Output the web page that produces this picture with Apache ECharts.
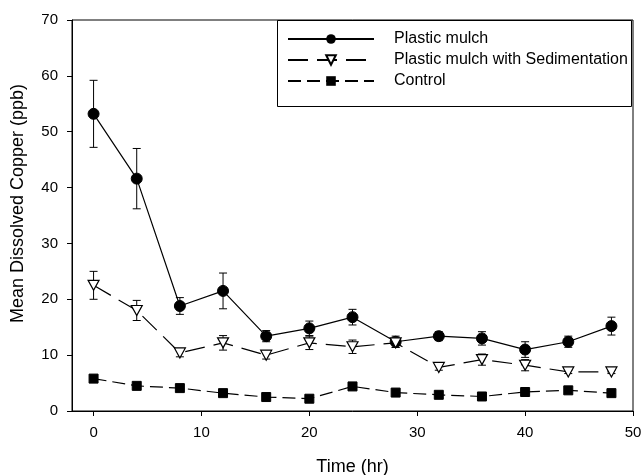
<!DOCTYPE html>
<html>
<head>
<meta charset="utf-8">
<script src="https://cdn.jsdelivr.net/npm/echarts@6/dist/echarts.min.js"></script>
<style>
    html, body { margin: 0; padding: 0; background: #fff; }
    #chart { width: 642px; height: 475px; }
</style>
</head>
<body>
<div id="chart"></div>
<script>
// time points (hr)
const hours = [0, 4, 8, 12, 16, 20, 24, 28, 32, 36, 40, 44, 48];

// mean dissolved copper (ppb) and error bar half-widths
const mulch = [53.2, 41.6, 18.8, 21.5, 13.4, 14.8, 16.8, 12.4, 13.4, 13.0, 11.0, 12.4, 15.2];
const mulchErr = [6.0, 5.4, 1.5, 3.2, 1.0, 1.3, 1.4, 1.0, 0.8, 1.2, 1.4, 1.0, 1.6];
const sediment = [22.5, 18.0, 10.4, 12.2, 10.0, 12.2, 11.5, 12.2, 7.8, 9.2, 8.2, 7.0, 7.0];
const sedimentErr = [2.5, 1.8, 0.7, 1.3, 0.7, 1.2, 1.2, 0.8, 0.5, 1.0, 1.0, 0.3, 0.3];
const control = [5.8, 4.5, 4.1, 3.2, 2.5, 2.2, 4.4, 3.3, 2.9, 2.6, 3.4, 3.7, 3.2];

const xTicks = [0, 10, 20, 30, 40, 50];
const names = ["Plastic mulch", "Plastic mulch with Sedimentation", "Control"];

const font = "'Liberation Sans', Arial, sans-serif";

function pairs(ys) {
    return hours.map((h, i) => [h, ys[i]]);
}

function errData(ys, es) {
    return hours.map((h, i) => [h, ys[i] - es[i], ys[i] + es[i]]);
}

// vertical error bar with caps
function renderErr(params, api) {
    const lo = api.coord([api.value(0), api.value(1)]);
    const hi = api.coord([api.value(0), api.value(2)]);
    const w = 4;
    const style = { stroke: "#000", lineWidth: 1 };
    return {
        type: "group",
        children: [
            { type: "line", shape: { x1: lo[0], y1: lo[1], x2: hi[0], y2: hi[1] }, style: style },
            { type: "line", shape: { x1: lo[0] - w, y1: lo[1], x2: lo[0] + w, y2: lo[1] }, style: style },
            { type: "line", shape: { x1: hi[0] - w, y1: hi[1], x2: hi[0] + w, y2: hi[1] }, style: style },
        ],
    };
}

const chart = echarts.init(document.getElementById("chart"));
chart.setOption({
    animation: false,
    textStyle: { fontFamily: font },
    grid: {
        left: 72,
        right: 9,
        top: 20,
        bottom: 64,
        outerBoundsMode: "none",
        show: true,
        borderColor: "#000",
        borderWidth: 1,
        backgroundColor: "transparent",
    },
    legend: {
        data: names,
        orient: "vertical",
        left: 287,
        top: 31,
        padding: 0,
        itemWidth: 86,
        itemHeight: 12,
        itemGap: 5,
        textStyle: { color: "#000", fontSize: 16, lineHeight: 16, fontFamily: font, padding: [0, 0, 0, 15] },
    },
    graphic: [
        {
            // legend frame
            type: "rect",
            shape: { x: 277.5, y: 20.5, width: 354, height: 86 },
            style: { fill: "#fff", stroke: "#000", lineWidth: 1 },
            z: -1,
            zlevel: 0,
        },
    ],
    xAxis: {
        type: "value",
        min: -2,
        max: 50,
        splitLine: { show: false },
        axisLine: { onZero: false, lineStyle: { color: "#000", width: 1 } },
        axisTick: { customValues: xTicks, length: 5, lineStyle: { color: "#000" } },
        axisLabel: { customValues: xTicks, color: "#000", fontSize: 15, margin: 14, fontFamily: font },
        name: "Time (hr)",
        nameLocation: "middle",
        nameGap: 47,
        nameTextStyle: { color: "#000", fontSize: 18, fontFamily: font },
    },
    yAxis: {
        type: "value",
        min: 0,
        max: 70,
        interval: 10,
        splitLine: { show: false },
        axisLine: { show: true, onZero: false, lineStyle: { color: "#000", width: 1 } },
        axisTick: { show: true, length: 5, lineStyle: { color: "#000" } },
        axisLabel: { color: "#000", fontSize: 15, margin: 14, fontFamily: font },
        name: "Mean Dissolved Copper (ppb)",
        nameLocation: "middle",
        nameGap: 45,
        nameTextStyle: { color: "#000", fontSize: 18, fontFamily: font, padding: [0, 0, 0, 24] },
    },
    series: [
        {
            type: "custom",
            renderItem: renderErr,
            data: errData(mulch, mulchErr),
            z: 1,
            silent: true,
        },
        {
            type: "custom",
            renderItem: renderErr,
            data: errData(sediment, sedimentErr),
            z: 1,
            silent: true,
        },
        {
            name: names[0],
            type: "line",
            data: pairs(mulch),
            symbol: "circle",
            symbolSize: 11,
            lineStyle: { color: "#000", width: 1.2, type: "solid" },
            itemStyle: { color: "#000", borderColor: "#000" },
            z: 3,
        },
        {
            name: names[1],
            type: "line",
            data: pairs(sediment),
            symbol: "triangle",
            symbolRotate: 180,
            symbolSize: [11, 10],
            lineStyle: { color: "#000", width: 1.2, type: [20, 9] },
            itemStyle: { color: "#fff", borderColor: "#000", borderWidth: 1.2 },
            z: 3,
        },
        {
            name: names[2],
            type: "line",
            data: pairs(control),
            symbol: "rect",
            symbolSize: 9,
            lineStyle: { color: "#000", width: 1.2, type: [13, 6] },
            itemStyle: { color: "#000", borderColor: "#000" },
            z: 3,
        },
    ],
});
</script>
</body>
</html>
